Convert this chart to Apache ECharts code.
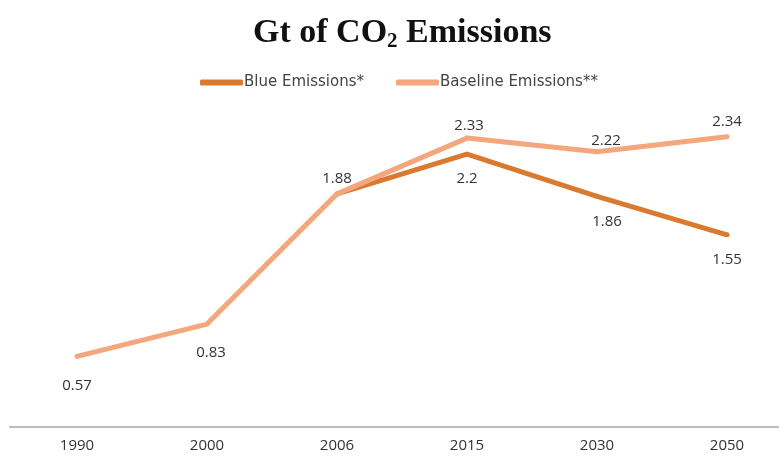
<!DOCTYPE html>
<html>
<head>
<meta charset="utf-8">
<script src="https://cdn.jsdelivr.net/npm/echarts@6/dist/echarts.min.js"></script>
<style>
  html, body { margin: 0; padding: 0; background: #fff; }
  #chart { width: 779px; height: 460px; }
</style>
</head>
<body>
<div id="chart"></div>
<script>
// Emissions in gigatonnes of CO2 by year
const years = ['1990', '2000', '2006', '2015', '2030', '2050'];
const blueEmissions = [null, null, 1.88, 2.2, 1.86, 1.55];
const baselineEmissions = [0.57, 0.83, 1.88, 2.33, 2.22, 2.34];

const BLUE_COLOR = '#d97a30';
const BASE_COLOR = '#f4a67c';
const FONT = '"Open Sans", "DejaVu Sans", sans-serif';
const labelFont = { fontFamily: FONT, fontSize: 15, color: '#333' };

const chart = echarts.init(document.getElementById('chart'));
chart.setOption({
  animation: false,
  title: {
    text: '{t|Gt of CO}{s|2}{t| Emissions}',
    left: 248,
    top: 10,
    textStyle: {
      rich: {
        t: { fontFamily: '"Liberation Serif", "DejaVu Serif", serif', fontWeight: 'bold', fontSize: 34, color: '#111' },
        s: { fontFamily: '"Liberation Serif", "DejaVu Serif", serif', fontWeight: 'bold', fontSize: 21, color: '#111', padding: [16, 0, 0, 0] }
      }
    }
  },
  legend: {
    top: 70,
    left: 195,
    itemWidth: 43,
    itemHeight: 6,
    itemGap: 32,
    icon: 'roundRect',
    textStyle: { fontFamily: '"DejaVu Sans", sans-serif', fontSize: 15, color: '#444', padding: [0, 0, 0, -4] },
    data: [
      { name: 'Blue Emissions*', itemStyle: { color: BLUE_COLOR, opacity: 1 } },
      { name: 'Baseline Emissions**', itemStyle: { color: BASE_COLOR, opacity: 1 } }
    ]
  },
  grid: [
    { left: 77, right: 52, top: 117, height: 310, containLabel: false },
    { left: 10, right: 0, top: 117, height: 310, containLabel: false }
  ],
  xAxis: [
    {
      type: 'category',
      gridIndex: 0,
      data: years,
      boundaryGap: false,
      axisLine: { show: false },
      axisTick: { show: false },
      axisLabel: { margin: 11, fontFamily: FONT, fontSize: 15, color: '#333' }
    },
    {
      // full-width baseline rule under the plot
      type: 'value',
      gridIndex: 1,
      min: 0,
      max: 1,
      axisLine: { show: true, lineStyle: { color: '#bdbdbd', width: 2 } },
      axisTick: { show: false },
      axisLabel: { show: false },
      splitLine: { show: false }
    }
  ],
  yAxis: [
    { type: 'value', gridIndex: 0, min: 0, max: 2.5, show: false, splitLine: { show: false } },
    { type: 'value', gridIndex: 1, min: 0, max: 1, show: false, splitLine: { show: false } }
  ],
  series: [
    {
      name: 'Blue Emissions*',
      type: 'line',
      data: blueEmissions,
      color: BLUE_COLOR,
      symbol: 'circle',
      symbolSize: 5,
      itemStyle: { color: BLUE_COLOR, borderWidth: 0 },
      lineStyle: { width: 5, color: BLUE_COLOR },
      z: 2,
      label: {
        show: true,
        position: 'bottom',
        distance: 15,
        ...labelFont,
        formatter: p => (p.dataIndex === 2 ? '' : String(p.value))
      },
      labelLayout: p => (p.dataIndex === 4 ? { dx: 10 } : {})
    },
    {
      name: 'Baseline Emissions**',
      type: 'line',
      data: baselineEmissions,
      color: BASE_COLOR,
      symbol: 'circle',
      symbolSize: 5,
      itemStyle: { color: BASE_COLOR, borderWidth: 0 },
      lineStyle: { width: 5, color: BASE_COLOR },
      z: 3,
      label: {
        show: true,
        position: 'top',
        distance: 5,
        ...labelFont,
        formatter: p => String(p.value)
      },
      labelLayout: p => {
        if (p.dataIndex === 0) return { dy: 44 };
        if (p.dataIndex === 1) return { dx: 4, dy: 44 };
        if (p.dataIndex === 3) return { dx: 2, dy: 3 };
        if (p.dataIndex === 4) return { dx: 9, dy: 4 };
        return {};
      }
    }
  ]
});
</script>
</body>
</html>
